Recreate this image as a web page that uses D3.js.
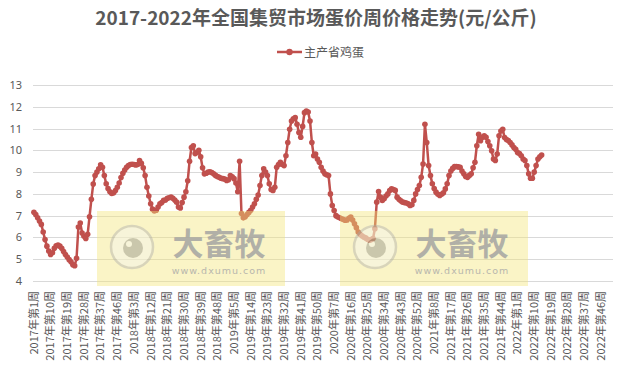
<!DOCTYPE html>
<html>
<head>
<meta charset="utf-8">
<script src="https://cdn.jsdelivr.net/npm/d3@7"></script>
<style>
  body { margin: 0; background: #fff; }
  svg { display: block; font-family: "Noto Sans CJK SC", "Noto Sans", sans-serif; }
</style>
</head>
<body>
<div id="chart"></div>
<script>
// weeks in each year on the category axis
var years = [2017, 2018, 2019, 2020, 2021, 2022];
var weeksPerYear = [52, 52, 52, 53, 52, 52];

// 主产省鸡蛋 weekly price (元/公斤), from 2017 week 1
var eggPrice = [
  7.16, 7.05, 6.9, 6.75, 6.6, 6.25, 5.9, 5.6, 5.38, 5.22,
  5.3, 5.5, 5.62, 5.65, 5.6, 5.5, 5.35, 5.22, 5.1, 4.98,
  4.88, 4.75, 4.7, 5.04, 6.48, 6.66, 6.2, 6.05, 5.95, 6.15,
  6.95, 7.75, 8.45, 8.84, 9.0, 9.15, 9.34, 9.22, 8.84, 8.46,
  8.25, 8.1, 8.02, 8.05, 8.15, 8.3, 8.5, 8.75, 8.95, 9.1,
  9.22, 9.3, 9.35, 9.36, 9.35, 9.33, 9.35, 9.53, 9.4, 9.2,
  8.84, 8.3, 7.9, 7.55, 7.3, 7.22, 7.25, 7.4, 7.55, 7.6,
  7.7, 7.72, 7.8, 7.82, 7.85, 7.8, 7.72, 7.62, 7.4, 7.35,
  7.6, 7.85, 8.1, 8.6, 9.5, 10.13, 10.21, 9.85, 9.9, 10.0,
  9.7, 9.2, 8.92, 8.95, 9.0, 9.02, 8.98, 8.92, 8.85, 8.8,
  8.76, 8.72, 8.7, 8.68, 8.62, 8.65, 8.84, 8.78, 8.7, 8.5,
  8.1, 9.5, 7.1, 6.9, 6.95, 7.05, 7.15, 7.25, 7.4, 7.55,
  7.75, 7.95, 8.38, 8.84, 9.15, 9.0, 8.84, 8.46, 8.2, 8.16,
  8.3, 9.22, 9.35, 9.45, 9.35, 9.3, 9.75, 10.36, 10.97, 11.35,
  11.45, 11.5, 11.2, 10.82, 10.6, 11.1, 11.73, 11.8, 11.76, 11.35,
  10.36, 9.75, 9.83, 9.6, 9.45, 9.22, 9.05, 8.92, 8.88, 8.84,
  8.0, 7.47, 7.24, 7.0, 6.94, 6.9, 6.86, 6.82, 6.79, 6.8,
  6.88, 6.94, 6.8, 6.63, 6.45, 6.25, 6.15, 6.08, 6.02, 5.98,
  5.92, 5.87, 5.9, 5.95, 6.4, 7.62, 8.11, 7.85, 7.7, 7.78,
  7.9, 8.0, 8.15, 8.23, 8.2, 8.16, 7.85, 7.75, 7.68, 7.62,
  7.6, 7.58, 7.55, 7.47, 7.5, 7.7, 8.0, 8.2, 8.38, 8.76,
  9.37, 11.2, 10.36, 9.3, 8.84, 8.46, 8.25, 8.08, 7.98, 7.93,
  7.98, 8.05, 8.23, 8.46, 8.84, 9.05, 9.17, 9.25, 9.26, 9.24,
  9.22, 9.05, 8.92, 8.8, 8.76, 8.85, 8.92, 9.2, 9.45, 10.21,
  10.74, 10.44, 10.6, 10.67, 10.6, 10.4, 10.21, 9.98, 9.6, 9.53,
  9.83, 10.67, 10.89, 10.97, 10.59, 10.5, 10.45, 10.36, 10.25, 10.13,
  10.05, 9.9, 9.85, 9.75, 9.6, 9.53, 9.3, 8.92, 8.72, 8.72,
  9.0, 9.3, 9.6, 9.7, 9.78
];

var yTicks = [4, 5, 6, 7, 8, 9, 10, 11, 12, 13];
var labelStep = 9;

var width = 631, height = 373;
var margin = { top: 85, right: 18, bottom: 92, left: 33 };

// category labels like 2017年第1周
var categories = [];
years.forEach(function(yr, k) {
  for (var w = 1; w <= weeksPerYear[k]; w++) categories.push(yr + '年第' + w + '周');
});

var svg = d3.select('#chart').append('svg')
  .attr('width', width)
  .attr('height', height);

var x = d3.scaleBand()
  .domain(categories)
  .range([margin.left, width - margin.right])
  .padding(0);

var y = d3.scaleLinear()
  .domain([4, 13])
  .range([height - margin.bottom, margin.top]);

// title
svg.append('text')
  .attr('x', 316)
  .attr('y', 25)
  .attr('text-anchor', 'middle')
  .attr('font-size', '19px')
  .attr('font-weight', 'bold')
  .attr('fill', '#595959')
  .text('2017-2022年全国集贸市场蛋价周价格走势(元/公斤)');

// legend
var legend = svg.append('g').attr('transform', 'translate(277, 52)');
legend.append('line')
  .attr('x1', 0).attr('x2', 25)
  .attr('stroke', '#C0504D').attr('stroke-width', 2.5);
legend.append('circle')
  .attr('cx', 12.5).attr('r', 3.2)
  .attr('fill', '#C0504D');
legend.append('text')
  .attr('x', 27).attr('y', 4.5)
  .attr('font-size', '12px')
  .attr('fill', '#595959')
  .text('主产省鸡蛋');

// gridlines
svg.append('g')
  .selectAll('line')
  .data(yTicks)
  .enter().append('line')
  .attr('x1', margin.left)
  .attr('x2', width - margin.right)
  .attr('y1', d => Math.round(y(d)) + 0.5)
  .attr('y2', d => Math.round(y(d)) + 0.5)
  .attr('stroke', '#d9d9d9')
  .attr('stroke-width', 1);

// y axis labels
var yAxis = svg.append('g')
  .attr('transform', `translate(${margin.left}, 0)`)
  .call(d3.axisLeft(y).tickValues(yTicks).tickSize(0).tickPadding(11));
yAxis.select('.domain').remove();
yAxis.selectAll('text')
  .attr('font-family', '"Noto Sans", sans-serif')
  .attr('font-size', '11px')
  .attr('fill', '#595959');

// x axis labels, every 9th week, rotated
var xAxis = svg.append('g')
  .attr('transform', `translate(0, ${y(4)})`)
  .call(d3.axisBottom(x)
    .tickValues(categories.filter((c, i) => i % labelStep === 0))
    .tickSize(0));
xAxis.select('.domain').remove();
xAxis.selectAll('text')
  .attr('font-family', '"Noto Sans CJK SC", sans-serif')
  .attr('font-size', '11px')
  .attr('fill', '#595959')
  .attr('text-anchor', 'end')
  .attr('transform', 'rotate(-90)')
  .attr('x', -10)
  .attr('y', 0)
  .attr('dy', '0.35em');

// series
var pts = eggPrice.map((v, i) => ({ c: categories[i], v: v }));
var cx = d => x(d.c) + x.bandwidth() / 2;

svg.append('path')
  .datum(pts)
  .attr('fill', 'none')
  .attr('stroke', '#C0504D')
  .attr('stroke-width', 2.5)
  .attr('stroke-linejoin', 'round')
  .attr('d', d3.line().x(cx).y(d => y(d.v)));

svg.append('g')
  .selectAll('circle')
  .data(pts)
  .enter().append('circle')
  .attr('cx', cx)
  .attr('cy', d => y(d.v))
  .attr('r', 2.8)
  .attr('fill', '#C0504D');

// watermarks on top (semi transparent)
function watermark(x0, y0) {
  var g = svg.append('g').attr('transform', `translate(${x0}, ${y0})`);
  g.append('rect')
    .attr('width', 188).attr('height', 75)
    .attr('fill', 'rgb(242, 228, 120)')
    .attr('opacity', 0.42);
  var logo = g.append('g').attr('opacity', 0.42);
  logo.append('circle')
    .attr('cx', 35).attr('cy', 36).attr('r', 21)
    .attr('fill', '#f4f4f4').attr('stroke', '#aaaaaa').attr('stroke-width', 2.5);
  logo.append('circle')
    .attr('cx', 36).attr('cy', 37).attr('r', 10)
    .attr('fill', '#8a8a8a');
  logo.append('circle')
    .attr('cx', 32).attr('cy', 33).attr('r', 3)
    .attr('fill', '#f4f4f4');
  g.append('text')
    .attr('x', 122).attr('y', 44)
    .attr('text-anchor', 'middle')
    .attr('font-family', '"Noto Sans CJK SC", sans-serif')
    .attr('font-size', '31px')
    .attr('font-weight', 'bold')
    .attr('fill', '#a0a0a0')
    .attr('opacity', 0.8)
    .text('大畜牧');
  g.append('text')
    .attr('x', 122).attr('y', 63)
    .attr('text-anchor', 'middle')
    .attr('font-family', '"DejaVu Sans", sans-serif')
    .attr('font-size', '9.5px')
    .attr('letter-spacing', '1px')
    .attr('fill', '#a8a8a8')
    .attr('opacity', 0.8)
    .text('www.dxumu.com');
}
watermark(97, 211);
watermark(340, 211);
</script>
</body>
</html>
